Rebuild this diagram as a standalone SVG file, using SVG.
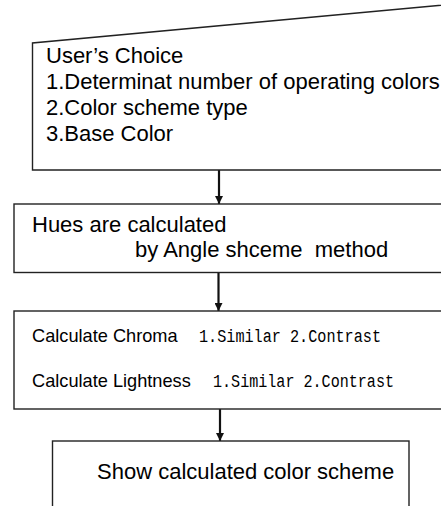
<svg xmlns="http://www.w3.org/2000/svg" width="441" height="506" viewBox="0 0 441 506">
<defs>
<style>
.box{fill:#fff;stroke:#222;stroke-width:1.4}
.t{font-family:"Liberation Sans",Arial,sans-serif;font-size:22px;fill:#000;white-space:pre}
.s{font-family:"Liberation Sans",Arial,sans-serif;font-size:18.2px;fill:#000;white-space:pre}
.m{font-family:"Liberation Mono","Courier New",monospace;font-size:18px;fill:#000}
.c{stroke:#111;stroke-width:2.2;fill:none}
</style>
<marker id="ah" markerWidth="8" markerHeight="8" refX="8" refY="4" orient="auto" markerUnits="userSpaceOnUse">
<path d="M0,0 L8,4 L0,8 Z" fill="#111"/>
</marker>
</defs>
<rect width="441" height="506" fill="#fff"/>
<g id="connectors">
<line class="c" x1="219" y1="170" x2="219" y2="204" marker-end="url(#ah)"/>
<line class="c" x1="218.5" y1="273" x2="218.5" y2="311" marker-end="url(#ah)"/>
<line class="c" x1="220" y1="409" x2="220" y2="441" marker-end="url(#ah)"/>
</g>
<g id="user-choice">
<path class="box" d="M32.5,170 L32.5,43 L460,3.5 L460,170 Z"/>
<text class="t" x="46" y="63">User’s Choice</text>
<text class="t" x="46" y="89">1.Determinat number of operating colors</text>
<text class="t" x="46" y="115">2.Color scheme type</text>
<text class="t" x="46" y="141">3.Base Color</text>
</g>
<g id="hues">
<rect class="box" x="14" y="204" width="450" height="68.5"/>
<text class="t" x="32" y="232">Hues are calculated</text>
<text class="t" x="135" y="257">by Angle shceme  method</text>
</g>
<g id="chroma-lightness">
<rect class="box" x="14" y="311" width="450" height="98"/>
<text x="32" y="342"><tspan class="s">Calculate Chroma</tspan><tspan class="m" x="199" textLength="182" lengthAdjust="spacingAndGlyphs">1.Similar 2.Contrast</tspan></text>
<text x="32" y="387"><tspan class="s">Calculate Lightness</tspan><tspan class="m" x="213" textLength="181" lengthAdjust="spacingAndGlyphs">1.Similar 2.Contrast</tspan></text>
</g>
<g id="show-scheme">
<rect class="box" x="52.5" y="441" width="356.5" height="80"/>
<text class="t" x="97" y="479">Show calculated color scheme</text>
</g>
</svg>
